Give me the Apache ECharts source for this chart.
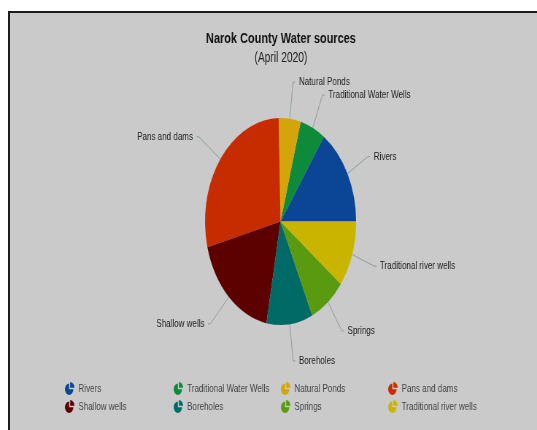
<!DOCTYPE html>
<html>
<head>
<meta charset="utf-8">
<script src="https://cdn.jsdelivr.net/npm/echarts@6/dist/echarts.min.js"></script>
<style>
  html, body { margin: 0; padding: 0; background: #ffffff; width: 537px; height: 430px; overflow: hidden; }
  #panel {
    position: absolute; left: 8px; top: 11px; width: 529px; height: 419px;
    box-sizing: border-box; background: #cacaca;
    border-left: 2px solid #1c1c1c; border-top: 2px solid #1c1c1c;
  }
  /* chart is laid out on a wider canvas and squeezed horizontally */
  #chart {
    position: absolute; left: 0; top: 0; width: 736px; height: 430px;
    transform: scaleX(0.72962); transform-origin: 0 0;
  }
</style>
</head>
<body>
<div id="panel"></div>
<div id="chart"></div>
<script>
const categories = ['Rivers', 'Traditional Water Wells', 'Natural Ponds', 'Pans and dams',
                    'Shallow wells', 'Boreholes', 'Springs', 'Traditional river wells'];
const shares = [15.3, 5.4, 4.7, 28.6, 18.0, 9.9, 7.8, 10.3];
const sliceColors = ['#0b4596', '#0d8a3a', '#d4a50a', '#c62c00',
                     '#5c0000', '#006a66', '#5a9a0e', '#c9b500'];
const legendColumns = [
  ['Rivers', 'Shallow wells'],
  ['Traditional Water Wells', 'Boreholes'],
  ['Natural Ponds', 'Springs'],
  ['Pans and dams', 'Traditional river wells']
];
const titleText = 'Narok County Water sources';
const subtitleText = '(April 2020)';

const FONT = 'Liberation Sans, Arial, sans-serif';
const pieIcon = 'path://M9,3 L9,11 L17,11 A8,8 0 1,1 9,3 Z M11,1 A8,8 0 0,1 19,9 L11,9 Z';
const legendLefts = [84, 233, 380, 527];

const chart = echarts.init(document.getElementById('chart'), null, { renderer: 'canvas' });

chart.setOption({
  backgroundColor: 'transparent',
  animation: false,
  title: {
    text: titleText,
    subtext: subtitleText,
    left: 380,
    top: 26,
    textAlign: 'center',
    itemGap: 5,
    textStyle: { fontFamily: FONT, fontSize: 15, fontWeight: 'bold', color: '#111' },
    subtextStyle: { fontFamily: FONT, fontSize: 14, color: '#222' }
  },
  legend: legendColumns.map((col, i) => ({
    data: col,
    orient: 'vertical',
    left: legendLefts[i],
    top: 377,
    itemWidth: 14,
    itemHeight: 13,
    itemGap: 5,
    icon: pieIcon,
    selectedMode: false,
    textStyle: { fontFamily: FONT, fontSize: 11, color: '#444' }
  })),
  series: [{
    type: 'pie',
    center: [384.5, 221.5],
    radius: 103.5,
    startAngle: 0,
    clockwise: false,
    silent: true,
    data: categories.map((name, i) => ({
      name: name,
      value: shares[i],
      itemStyle: { color: sliceColors[i] }
    })),
    label: { fontFamily: FONT, fontSize: 11, color: '#222' },
    labelLine: { length: 37, length2: 3, lineStyle: { color: '#8d9ba0', width: 1 } }
  }]
});
</script>
</body>
</html>
